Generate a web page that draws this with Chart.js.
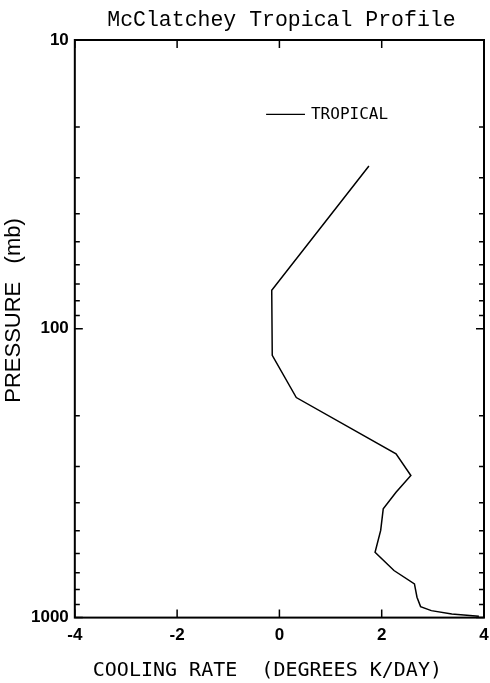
<!DOCTYPE html>
<html>
<head>
<meta charset="utf-8">
<script src="https://cdn.jsdelivr.net/npm/chart.js@4.4.1/dist/chart.umd.min.js"></script>
<style>
  html, body { margin: 0; padding: 0; background: #fff; }
  canvas { display: block; }
</style>
</head>
<body>
<canvas id="profile" width="490" height="683"></canvas>
<script>
// cooling rate (K/day) vs pressure (mb)
const coolingRate = [1.75, -0.15, -0.14, 0.33, 2.28, 2.57, 2.28, 2.03, 1.98, 1.87, 2.24, 2.64, 2.69, 2.76, 2.97, 3.37, 3.9];
const pressure    = [27.3, 73.5, 123.6, 173, 271, 322, 368, 420, 499, 594, 687, 764, 850, 916, 946, 972, 990];

const rateTicks = [-4, -2, 0, 2, 4];
const majorPressure = [10, 100, 1000];
const minorPressure = [20, 30, 40, 50, 60, 70, 80, 90, 200, 300, 400, 500, 600, 700, 800, 900];

const titleText = 'McClatchey Tropical Profile';
const legendLabel = 'TROPICAL';

// box, inward ticks, title and legend (plotter style)
const framePlugin = {
  id: 'frame',
  afterDraw(chart) {
    const { ctx, chartArea: a, scales: { x, y } } = chart;
    ctx.save();
    ctx.strokeStyle = '#000';
    ctx.lineWidth = 2;
    ctx.strokeRect(a.left, a.top, a.right - a.left, a.bottom - a.top);

    ctx.lineWidth = 1.5;
    ctx.beginPath();
    rateTicks.forEach(v => {
      const px = x.getPixelForValue(v);
      ctx.moveTo(px, a.top); ctx.lineTo(px, a.top + 8);
      ctx.moveTo(px, a.bottom); ctx.lineTo(px, a.bottom - 8);
    });
    majorPressure.concat(minorPressure).forEach(v => {
      const py = y.getPixelForValue(v);
      const len = majorPressure.includes(v) ? 8 : 5;
      ctx.moveTo(a.left, py); ctx.lineTo(a.left + len, py);
      ctx.moveTo(a.right, py); ctx.lineTo(a.right - len, py);
    });
    ctx.stroke();

    // title, centred over the plot
    ctx.fillStyle = '#000';
    ctx.font = '21.5px "Liberation Mono", monospace';
    ctx.textAlign = 'center';
    ctx.textBaseline = 'alphabetic';
    ctx.fillText(titleText, (a.left + a.right) / 2 + 2, 26);

    // legend
    const ly = y.getPixelForValue(18.1);
    ctx.lineWidth = 1.2;
    ctx.beginPath();
    ctx.moveTo(x.getPixelForValue(-0.26), ly);
    ctx.lineTo(x.getPixelForValue(0.5), ly);
    ctx.stroke();
    ctx.font = '16px "DejaVu Sans Mono", monospace';
    ctx.textAlign = 'left';
    ctx.textBaseline = 'middle';
    ctx.fillText(legendLabel, x.getPixelForValue(0.5) + 6, ly);
    ctx.restore();
  }
};

new Chart(document.getElementById('profile'), {
  type: 'scatter',
  data: {
    datasets: [{
      label: legendLabel,
      data: coolingRate.map((r, i) => ({ x: r, y: pressure[i] })),
      showLine: true,
      borderColor: '#000',
      borderWidth: 1.5,
      pointRadius: 0,
      tension: 0,
      fill: false
    }]
  },
  options: {
    responsive: false,
    animation: false,
    devicePixelRatio: 1,
    layout: { padding: { top: 40, left: 3, right: 0, bottom: 0 } },
    plugins: {
      legend: { display: false },
      title: { display: false },
      tooltip: { enabled: false }
    },
    scales: {
      x: {
        type: 'linear',
        min: -4,
        max: 4,
        afterBuildTicks: s => { s.ticks = rateTicks.map(v => ({ value: v })); },
        // let the "4" hang off the right edge like the original
        afterFit: s => { s.paddingRight = 6; },
        grid: { display: false, drawTicks: false },
        border: { display: false },
        ticks: {
          color: '#000',
          padding: 8,
          maxRotation: 0,
          font: { family: '"Liberation Sans", Arial, sans-serif', size: 17, weight: 'bold' }
        },
        title: {
          display: true,
          text: 'COOLING RATE  (DEGREES K/DAY)  ',
          color: '#000',
          padding: { top: 5, bottom: 0 },
          font: { family: '"DejaVu Sans Mono", monospace', size: 20 }
        }
      },
      y: {
        type: 'logarithmic',
        min: 10,
        max: 1000,
        reverse: true,
        afterBuildTicks: s => { s.ticks = majorPressure.map(v => ({ value: v })); },
        grid: { display: false, drawTicks: false },
        border: { display: false },
        ticks: {
          color: '#000',
          padding: 6,
          callback: v => String(v),
          font: { family: '"Liberation Sans", Arial, sans-serif', size: 17, weight: 'bold' }
        },
        title: {
          display: true,
          text: '      PRESSURE   (mb)',
          color: '#000',
          padding: { top: 0, bottom: 0 },
          font: { family: '"Liberation Sans", Arial, sans-serif', size: 22, lineHeight: 1 }
        }
      }
    }
  },
  plugins: [framePlugin]
});
</script>
</body>
</html>
